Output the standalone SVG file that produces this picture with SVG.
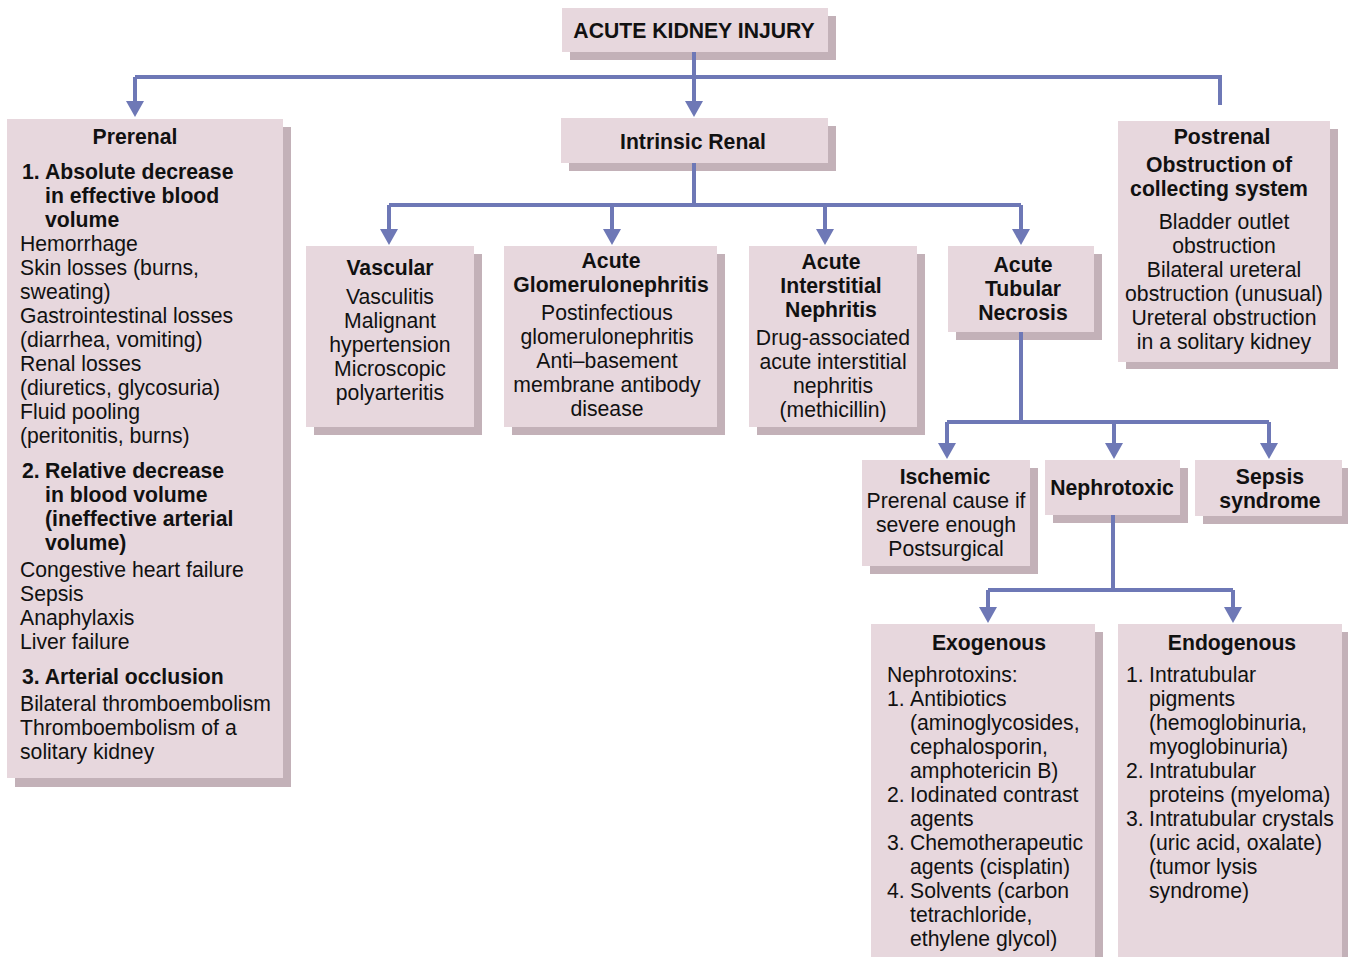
<svg xmlns="http://www.w3.org/2000/svg" width="1348" height="957" viewBox="0 0 1348 957">
  <style>
    .shadow { fill: #c3b1b8; }
    .box { fill: #e7d7dd; }
    text { font-family: "Liberation Sans", Arial, Helvetica, sans-serif; font-size: 21.2px; fill: #111; }
    .b { font-weight: bold; }
    .c { text-anchor: middle; }
    .wire { fill: none; stroke: #6e78b6; stroke-width: 4; }
  </style>
  <defs>
    <marker id="arrow" markerUnits="userSpaceOnUse" markerWidth="18" markerHeight="18" viewBox="0 0 16 18" refX="4" refY="9" orient="auto">
      <path d="M0,0 L16,9 L0,18 Z" fill="#6e78b6"/>
    </marker>
  </defs>

  <rect width="1348" height="957" fill="#ffffff"/>

  <!-- root -->
  <g id="aki">
    <rect class="shadow" x="570" y="16" width="266" height="44"/>
    <rect class="box" x="562" y="8" width="266" height="44"/>
    <text class="b c" x="694" y="38">ACUTE KIDNEY INJURY</text>
  </g>

  <!-- prerenal -->
  <g id="prerenal">
    <rect class="shadow" x="15" y="127" width="276" height="660"/>
    <rect class="box" x="7" y="119" width="276" height="659"/>
    <text class="b c" x="135" y="144">Prerenal</text>
    <text class="b" x="22" y="179">1.</text>
    <text class="b" x="45" y="179">Absolute decrease</text>
    <text class="b" x="45" y="203">in effective blood</text>
    <text class="b" x="45" y="227">volume</text>
    <text x="20" y="251">Hemorrhage</text>
    <text x="20" y="275">Skin losses (burns,</text>
    <text x="20" y="299">sweating)</text>
    <text x="20" y="323">Gastrointestinal losses</text>
    <text x="20" y="347">(diarrhea, vomiting)</text>
    <text x="20" y="371">Renal losses</text>
    <text x="20" y="395">(diuretics, glycosuria)</text>
    <text x="20" y="419">Fluid pooling</text>
    <text x="20" y="443">(peritonitis, burns)</text>
    <text class="b" x="22" y="478">2.</text>
    <text class="b" x="45" y="478">Relative decrease</text>
    <text class="b" x="45" y="502">in blood volume</text>
    <text class="b" x="45" y="526">(ineffective arterial</text>
    <text class="b" x="45" y="550">volume)</text>
    <text x="20" y="577">Congestive heart failure</text>
    <text x="20" y="601">Sepsis</text>
    <text x="20" y="625">Anaphylaxis</text>
    <text x="20" y="649">Liver failure</text>
    <text class="b" x="22" y="684">3. Arterial occlusion</text>
    <text x="20" y="711">Bilateral thromboembolism</text>
    <text x="20" y="735">Thromboembolism of a</text>
    <text x="20" y="759">solitary kidney</text>
  </g>

  <!-- intrinsic renal -->
  <g id="intrinsic">
    <rect class="shadow" x="569" y="126" width="267" height="45"/>
    <rect class="box" x="561" y="118" width="267" height="45"/>
    <text class="b c" x="693" y="149">Intrinsic Renal</text>
  </g>

  <!-- postrenal -->
  <g id="postrenal">
    <rect class="shadow" x="1126" y="129" width="212" height="240"/>
    <rect class="box" x="1118" y="121" width="212" height="241"/>
    <text class="b c" x="1222" y="144">Postrenal</text>
    <text class="b c" x="1219" y="172">Obstruction of</text>
    <text class="b c" x="1219" y="196">collecting system</text>
    <text class="c" x="1224" y="229">Bladder outlet</text>
    <text class="c" x="1224" y="253">obstruction</text>
    <text class="c" x="1224" y="277">Bilateral ureteral</text>
    <text class="c" x="1224" y="301">obstruction (unusual)</text>
    <text class="c" x="1224" y="325">Ureteral obstruction</text>
    <text class="c" x="1224" y="349">in a solitary kidney</text>
  </g>

  <!-- vascular -->
  <g id="vascular">
    <rect class="shadow" x="314" y="254" width="168" height="181"/>
    <rect class="box" x="306" y="246" width="168" height="181"/>
    <text class="b c" x="390" y="275">Vascular</text>
    <text class="c" x="390" y="304">Vasculitis</text>
    <text class="c" x="390" y="328">Malignant</text>
    <text class="c" x="390" y="352">hypertension</text>
    <text class="c" x="390" y="376">Microscopic</text>
    <text class="c" x="390" y="400">polyarteritis</text>
  </g>

  <!-- acute glomerulonephritis -->
  <g id="agn">
    <rect class="shadow" x="512" y="254" width="213" height="181"/>
    <rect class="box" x="504" y="246" width="213" height="181"/>
    <text class="b c" x="611" y="268">Acute</text>
    <text class="b c" x="611" y="292">Glomerulonephritis</text>
    <text class="c" x="607" y="320">Postinfectious</text>
    <text class="c" x="607" y="344">glomerulonephritis</text>
    <text class="c" x="607" y="368">Anti–basement</text>
    <text class="c" x="607" y="392">membrane antibody</text>
    <text class="c" x="607" y="416">disease</text>
  </g>

  <!-- acute interstitial nephritis -->
  <g id="ain">
    <rect class="shadow" x="757" y="254" width="168" height="181"/>
    <rect class="box" x="749" y="246" width="168" height="181"/>
    <text class="b c" x="831" y="269">Acute</text>
    <text class="b c" x="831" y="293">Interstitial</text>
    <text class="b c" x="831" y="317">Nephritis</text>
    <text class="c" x="833" y="345">Drug-associated</text>
    <text class="c" x="833" y="369">acute interstitial</text>
    <text class="c" x="833" y="393">nephritis</text>
    <text class="c" x="833" y="417">(methicillin)</text>
  </g>

  <!-- acute tubular necrosis -->
  <g id="atn">
    <rect class="shadow" x="956" y="254" width="146" height="86"/>
    <rect class="box" x="948" y="246" width="146" height="86"/>
    <text class="b c" x="1023" y="272">Acute</text>
    <text class="b c" x="1023" y="296">Tubular</text>
    <text class="b c" x="1023" y="320">Necrosis</text>
  </g>

  <!-- ischemic -->
  <g id="ischemic">
    <rect class="shadow" x="870" y="468" width="168" height="106"/>
    <rect class="box" x="862" y="460" width="168" height="106"/>
    <text class="b c" x="945" y="484">Ischemic</text>
    <text class="c" x="946" y="508">Prerenal cause if</text>
    <text class="c" x="946" y="532">severe enough</text>
    <text class="c" x="946" y="556">Postsurgical</text>
  </g>

  <!-- nephrotoxic -->
  <g id="nephrotoxic">
    <rect class="shadow" x="1053" y="468" width="135" height="55"/>
    <rect class="box" x="1045" y="460" width="135" height="55"/>
    <text class="b c" x="1112" y="495">Nephrotoxic</text>
  </g>

  <!-- sepsis syndrome -->
  <g id="sepsis">
    <rect class="shadow" x="1203" y="468" width="147" height="56"/>
    <rect class="box" x="1195" y="460" width="147" height="56"/>
    <text class="b c" x="1270" y="484">Sepsis</text>
    <text class="b c" x="1270" y="508">syndrome</text>
  </g>

  <!-- exogenous -->
  <g id="exogenous">
    <rect class="shadow" x="879" y="632" width="224" height="340"/>
    <rect class="box" x="871" y="624" width="224" height="340"/>
    <text class="b c" x="989" y="650">Exogenous</text>
    <text x="887" y="682">Nephrotoxins:</text>
    <text x="887" y="706">1.</text>
    <text x="910" y="706">Antibiotics</text>
    <text x="910" y="730">(aminoglycosides,</text>
    <text x="910" y="754">cephalosporin,</text>
    <text x="910" y="778">amphotericin B)</text>
    <text x="887" y="802">2.</text>
    <text x="910" y="802">Iodinated contrast</text>
    <text x="910" y="826">agents</text>
    <text x="887" y="850">3.</text>
    <text x="910" y="850">Chemotherapeutic</text>
    <text x="910" y="874">agents (cisplatin)</text>
    <text x="887" y="898">4.</text>
    <text x="910" y="898">Solvents (carbon</text>
    <text x="910" y="922">tetrachloride,</text>
    <text x="910" y="946">ethylene glycol)</text>
  </g>

  <!-- endogenous -->
  <g id="endogenous">
    <rect class="shadow" x="1126" y="632" width="224" height="340"/>
    <rect class="box" x="1118" y="624" width="224" height="340"/>
    <text class="b c" x="1232" y="650">Endogenous</text>
    <text x="1126" y="682">1.</text>
    <text x="1149" y="682">Intratubular</text>
    <text x="1149" y="706">pigments</text>
    <text x="1149" y="730">(hemoglobinuria,</text>
    <text x="1149" y="754">myoglobinuria)</text>
    <text x="1126" y="778">2.</text>
    <text x="1149" y="778">Intratubular</text>
    <text x="1149" y="802">proteins (myeloma)</text>
    <text x="1126" y="826">3.</text>
    <text x="1149" y="826">Intratubular crystals</text>
    <text x="1149" y="850">(uric acid, oxalate)</text>
    <text x="1149" y="874">(tumor lysis</text>
    <text x="1149" y="898">syndrome)</text>
  </g>

  <!-- connectors, drawn over the box shadows -->
  <g id="connectors">
    <path class="wire" d="M694,52 V77"/>
    <path class="wire" d="M135,77 H1220 V105"/>
    <path class="wire" d="M135,77 V105" marker-end="url(#arrow)"/>
    <path class="wire" d="M694,77 V105" marker-end="url(#arrow)"/>

    <path class="wire" d="M694,163 V205"/>
    <path class="wire" d="M389,205 H1021"/>
    <path class="wire" d="M389,205 V233" marker-end="url(#arrow)"/>
    <path class="wire" d="M612,205 V233" marker-end="url(#arrow)"/>
    <path class="wire" d="M825,205 V233" marker-end="url(#arrow)"/>
    <path class="wire" d="M1021,205 V233" marker-end="url(#arrow)"/>

    <path class="wire" d="M1021,332 V422"/>
    <path class="wire" d="M947,422 H1269"/>
    <path class="wire" d="M947,422 V447" marker-end="url(#arrow)"/>
    <path class="wire" d="M1114,422 V447" marker-end="url(#arrow)"/>
    <path class="wire" d="M1269,422 V447" marker-end="url(#arrow)"/>

    <path class="wire" d="M1113,515 V590"/>
    <path class="wire" d="M988,590 H1233"/>
    <path class="wire" d="M988,590 V611" marker-end="url(#arrow)"/>
    <path class="wire" d="M1233,590 V611" marker-end="url(#arrow)"/>
  </g>
</svg>
